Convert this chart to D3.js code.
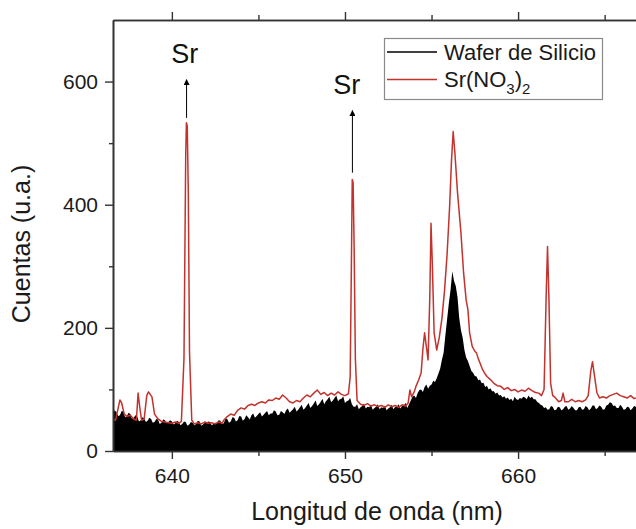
<!DOCTYPE html>
<html>
<head>
<meta charset="utf-8">
<script src="https://cdn.jsdelivr.net/npm/d3@7"></script>
<style>
  html, body { margin: 0; padding: 0; background: #fff; overflow: hidden; }
  svg { display: block; font-family: "Liberation Sans", Arial, sans-serif; }
</style>
</head>
<body>
<svg id="chart" width="636" height="529"></svg>
<script>
// Wavelength window (nm) and count range
const xDomain = [636.6, 667.1];
const yDomain = [0, 700];
const xMajorTicks = [640, 650, 660];
const xMinorTicks = [645, 655, 665];
const yMajorTicks = [0, 200, 400, 600];
const yMinorTicks = [100, 300, 500];

// Silicon wafer spectrum, sampled every 0.1 nm from 636.6 nm
const waferStart = 636.6;
const waferStep = 0.1;
const waferCounts = [
  60, 66, 63, 57, 58, 65, 64, 55, 57, 62, 60, 52, 54, 58, 56, 48, 50, 55, 53, 47,       // 636.6 – 638.5
  49, 54, 52, 46, 47, 52, 51, 44, 46, 51, 50, 45, 47, 50, 48, 43, 45, 49, 47, 42,       // 638.6 – 640.5
  44, 48, 47, 41, 43, 47, 46, 42, 44, 49, 48, 41, 43, 46, 45, 48, 47, 42, 44, 46,       // 640.6 – 642.5
  46, 50, 49, 44, 45, 53, 52, 46, 48, 55, 54, 48, 50, 57, 56, 49, 52, 58, 55, 51,       // 642.6 – 644.5
  58, 61, 54, 57, 60, 63, 56, 59, 62, 65, 58, 61, 61, 66, 64, 58, 59, 65, 63, 60,       // 644.6 – 646.5
  66, 69, 62, 65, 68, 72, 64, 67, 71, 75, 67, 70, 74, 78, 70, 73, 77, 82, 73, 76,       // 646.6 – 648.5
  80, 85, 76, 81, 84, 88, 79, 82, 86, 90, 81, 84, 85, 89, 78, 81, 82, 86, 76, 72,       // 648.6 – 650.5
  72, 76, 68, 71, 73, 77, 69, 72, 71, 75, 67, 70, 72, 76, 68, 71, 70, 74, 66, 69,       // 650.6 – 652.5
  71, 75, 68, 72, 72, 76, 69, 73, 74, 78, 70, 76, 82, 88, 90, 86, 94, 99, 100, 96,      // 652.6 – 654.5
  104, 108, 101, 106, 108, 114, 112, 118, 126, 134, 148, 160, 188, 214, 240, 262, 292, 276, 268, 250, // 654.6 – 656.5
  216, 196, 184, 164, 152, 146, 138, 130, 127, 122, 121, 115, 116, 110, 111, 104, 106, 100, 102, 97,  // 656.6 – 658.5
  97, 93, 95, 90, 91, 87, 89, 85, 87, 83, 85, 81, 88, 84, 83, 86, 85, 88, 87, 84,       // 658.6 – 660.5
  90, 86, 88, 84, 84, 80, 78, 75, 74, 70, 71, 67, 68, 73, 72, 66, 67, 72, 71, 66,       // 660.6 – 662.5
  68, 72, 73, 67, 69, 73, 70, 66, 66, 71, 72, 67, 68, 73, 71, 66, 69, 74, 74, 68,       // 662.6 – 664.5
  70, 74, 72, 67, 68, 74, 75, 79, 78, 73, 74, 70, 70, 75, 72, 67, 68, 72, 71, 66,       // 664.6 – 666.5
  69, 73, 72, 67, 70, 74, 68, 72, 71                                                    // 666.6 – 667.4
];

// Sr(NO3)2 spectrum as [wavelength nm, counts]
const srSpectrum = [
  [636.6, 52], [636.75, 50], [636.9, 70], [637.0, 83], [637.1, 78], [637.25, 60],
  [637.4, 56], [637.6, 58], [637.8, 52], [637.95, 50], [638.05, 94], [638.15, 70],
  [638.25, 50], [638.4, 52], [638.55, 90], [638.65, 96], [638.75, 92], [638.85, 88],
  [639.0, 60], [639.2, 52], [639.4, 48], [639.6, 47], [639.8, 46], [640.0, 45],
  [640.2, 47], [640.4, 45], [640.55, 48], [640.7, 150], [640.8, 480], [640.84, 533],
  [640.89, 528], [640.95, 420], [641.02, 160], [641.15, 50], [641.3, 44], [641.5, 46],
  [641.7, 44], [641.9, 47], [642.1, 45], [642.3, 46], [642.5, 44], [642.7, 47],
  [642.9, 45], [643.0, 50], [643.2, 56], [643.4, 60], [643.6, 58], [643.8, 66],
  [644.0, 70], [644.2, 68], [644.4, 74], [644.6, 76], [644.8, 74], [645.0, 78],
  [645.2, 80], [645.4, 78], [645.6, 83], [645.8, 82], [646.0, 86], [646.2, 84],
  [646.4, 91], [646.6, 86], [646.8, 80], [647.0, 78], [647.2, 82], [647.4, 80],
  [647.6, 86], [647.8, 91], [648.0, 88], [648.2, 94], [648.4, 99], [648.6, 92],
  [648.8, 95], [649.0, 90], [649.2, 94], [649.4, 91], [649.6, 96], [649.8, 92],
  [650.0, 90], [650.2, 93], [650.3, 120], [650.37, 300], [650.42, 441], [650.47, 436],
  [650.53, 330], [650.6, 150], [650.7, 82], [650.9, 76], [651.1, 74], [651.3, 77],
  [651.5, 73], [651.7, 75], [651.9, 72], [652.1, 74], [652.3, 71], [652.5, 75],
  [652.7, 72], [652.9, 74], [653.1, 71], [653.3, 75], [653.5, 73], [653.65, 78],
  [653.75, 99], [653.85, 88], [654.0, 96], [654.1, 105], [654.25, 115], [654.4, 127],
  [654.5, 165], [654.6, 192], [654.7, 170], [654.8, 148], [654.9, 250], [654.97, 370],
  [655.05, 300], [655.15, 192], [655.3, 164], [655.45, 185], [655.6, 215], [655.75, 260],
  [655.9, 320], [656.05, 400], [656.15, 470], [656.25, 519], [656.35, 484], [656.5, 420],
  [656.7, 354], [656.85, 290], [657.0, 245], [657.1, 230], [657.2, 192], [657.35, 170],
  [657.5, 162], [657.6, 159], [657.7, 150], [657.8, 143], [657.95, 132], [658.1, 125],
  [658.2, 121], [658.4, 116], [658.6, 110], [658.8, 106], [659.0, 105], [659.2, 100],
  [659.4, 103], [659.6, 98], [659.8, 100], [660.0, 96], [660.2, 99], [660.4, 97],
  [660.6, 102], [660.8, 98], [661.0, 95], [661.2, 94], [661.35, 90], [661.5, 100],
  [661.62, 250], [661.7, 332], [661.78, 250], [661.88, 110], [662.0, 90], [662.1, 88],
  [662.2, 85], [662.35, 80], [662.5, 82], [662.6, 94], [662.7, 80], [662.9, 80],
  [663.1, 84], [663.3, 80], [663.5, 82], [663.7, 80], [663.9, 83], [664.05, 90],
  [664.2, 130], [664.3, 145], [664.4, 125], [664.55, 95], [664.7, 86], [664.9, 88],
  [665.1, 86], [665.3, 90], [665.5, 92], [665.7, 94], [665.9, 90], [666.1, 88],
  [666.3, 86], [666.5, 90], [666.7, 85], [666.9, 87], [667.1, 86]
];

// Emission line annotations: label position, arrow from/to (nm, counts)
const srMarks = [
  { label: "Sr", labelNm: 640.75, labelY: 630, nm: 640.85, from: 541, to: 603 },
  { label: "Sr", labelNm: 650.1, labelY: 580, nm: 650.43, from: 452, to: 553 }
];

const legendItems = [
  { name: "Wafer de Silicio", color: "#000000" },
  { name: "Sr(NO3)2", color: "#c2332e" }
];

const plot = { left: 113, right: 641, top: 20, bottom: 451 };
const svg = d3.select("#chart");

const x = d3.scaleLinear().domain(xDomain).range([plot.left, plot.right]);
const y = d3.scaleLinear().domain(yDomain).range([plot.bottom, plot.top]);

svg.append("defs").append("clipPath").attr("id", "plotClip")
  .append("rect")
  .attr("x", plot.left).attr("y", plot.top)
  .attr("width", plot.right - plot.left).attr("height", plot.bottom - plot.top);

const marks = svg.append("g").attr("clip-path", "url(#plotClip)");

// Wafer spectrum: filled to the baseline
const waferData = waferCounts.map((c, i) => [waferStart + i * waferStep, c]);
marks.append("path")
  .datum(waferData)
  .attr("fill", "#000")
  .attr("d", d3.area().x(d => x(d[0])).y0(y(0)).y1(d => y(d[1])));

// Sr(NO3)2 spectrum line
marks.append("path")
  .datum(srSpectrum)
  .attr("fill", "none")
  .attr("stroke", legendItems[1].color)
  .attr("stroke-width", 1.5)
  .attr("stroke-linejoin", "round")
  .attr("d", d3.line().x(d => x(d[0])).y(d => y(d[1])));

// Axes
const axisColor = "#333";
function styleAxis(g) {
  g.selectAll("path.domain").attr("stroke", axisColor).attr("stroke-width", 1.6);
  g.selectAll(".tick line").attr("stroke", axisColor).attr("stroke-width", 1.4);
  g.selectAll(".tick text").attr("fill", "#1a1a1a").attr("font-size", 21)
    .attr("font-family", "'Liberation Sans', Arial, sans-serif");
}

svg.append("g").attr("transform", `translate(0,${plot.bottom})`)
  .call(d3.axisBottom(x).tickValues(xMajorTicks).tickSize(8).tickSizeOuter(0).tickPadding(9)
    .tickFormat(d3.format("d")))
  .call(styleAxis);
svg.append("g").attr("transform", `translate(0,${plot.bottom})`)
  .call(d3.axisBottom(x).tickValues(xMinorTicks).tickSize(5).tickSizeOuter(0).tickFormat(""))
  .call(styleAxis);

svg.append("g").attr("transform", `translate(0,${plot.top})`)
  .call(d3.axisTop(x).tickValues(xMajorTicks).tickSize(8).tickSizeOuter(0).tickFormat(""))
  .call(styleAxis);
svg.append("g").attr("transform", `translate(0,${plot.top})`)
  .call(d3.axisTop(x).tickValues(xMinorTicks).tickSize(5).tickSizeOuter(0).tickFormat(""))
  .call(styleAxis);

svg.append("g").attr("transform", `translate(${plot.left},0)`)
  .call(d3.axisLeft(y).tickValues(yMajorTicks).tickSize(8).tickSizeOuter(0).tickPadding(7)
    .tickFormat(d3.format("d")))
  .call(styleAxis);
svg.append("g").attr("transform", `translate(${plot.left},0)`)
  .call(d3.axisLeft(y).tickValues(yMinorTicks).tickSize(4).tickSizeOuter(0).tickFormat(""))
  .call(styleAxis);

// Axis titles
svg.append("text")
  .attr("x", 377).attr("y", 520)
  .attr("text-anchor", "middle")
  .attr("font-size", 25).attr("fill", "#1a1a1a")
  .text("Longitud de onda (nm)");

svg.append("text")
  .attr("transform", "translate(30,244) rotate(-90)")
  .attr("text-anchor", "middle")
  .attr("font-size", 25).attr("fill", "#1a1a1a")
  .text("Cuentas (u.a.)");

// Annotation arrows and labels
svg.append("defs").append("marker")
  .attr("id", "arrowHead")
  .attr("viewBox", "0 0 10 10")
  .attr("refX", 9).attr("refY", 5)
  .attr("markerWidth", 9).attr("markerHeight", 6)
  .attr("markerUnits", "userSpaceOnUse")
  .attr("orient", "auto")
  .append("path").attr("d", "M0,0 L10,5 L0,10 Z").attr("fill", "#000");

srMarks.forEach(m => {
  svg.append("line")
    .attr("x1", x(m.nm)).attr("y1", y(m.from))
    .attr("x2", x(m.nm)).attr("y2", y(m.to))
    .attr("stroke", "#000").attr("stroke-width", 1)
    .attr("marker-end", "url(#arrowHead)");
  svg.append("text")
    .attr("x", x(m.labelNm)).attr("y", y(m.labelY))
    .attr("text-anchor", "middle")
    .attr("font-size", 27).attr("fill", "#111")
    .text(m.label);
});

// Legend
const legend = svg.append("g");
legend.append("rect")
  .attr("x", 384.5).attr("y", 38.5).attr("width", 218).attr("height", 61)
  .attr("fill", "#fff").attr("stroke", "#8a8a8a").attr("stroke-width", 1.2);

const rowY = [52, 79.5];
legendItems.forEach((item, i) => {
  legend.append("line")
    .attr("x1", 387).attr("x2", 437).attr("y1", rowY[i]).attr("y2", rowY[i])
    .attr("stroke", item.color).attr("stroke-width", 1.5);
});
legend.append("text")
  .attr("x", 444).attr("y", 60)
  .attr("font-size", 22).attr("fill", "#1a1a1a")
  .text(legendItems[0].name);

const srText = legend.append("text")
  .attr("x", 444).attr("y", 87)
  .attr("font-size", 22).attr("fill", "#1a1a1a");
srText.append("tspan").text("Sr(NO");
srText.append("tspan").attr("font-size", 15).attr("dy", 7).text("3");
srText.append("tspan").attr("dy", -7).text(")");
srText.append("tspan").attr("font-size", 15).attr("dy", 7).text("2");
</script>
</body>
</html>
